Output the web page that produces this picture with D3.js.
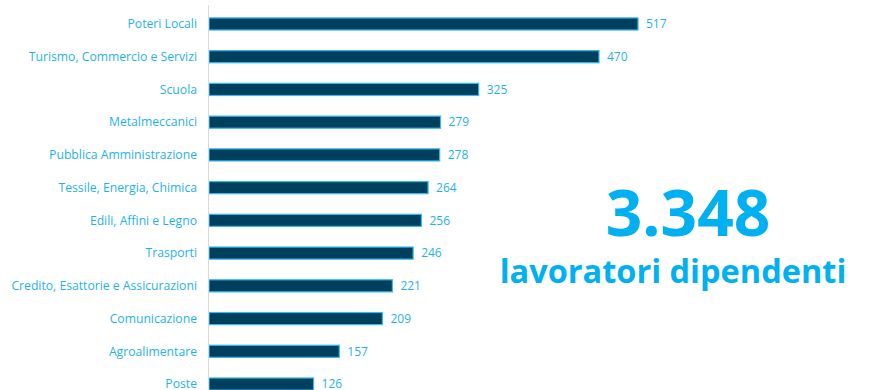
<!DOCTYPE html>
<html>
<head>
<meta charset="utf-8">
<script src="https://cdn.jsdelivr.net/npm/d3@7"></script>
<style>
  body { margin: 0; background: #fff; }
  svg { display: block; }
  .lbl { font-family: "Open Sans", sans-serif; fill: #1fb1ee; }
</style>
</head>
<body>
<div id="chart"></div>
<script>
// sectors and number of employees
const sectors = [
  "Poteri Locali",
  "Turismo, Commercio e Servizi",
  "Scuola",
  "Metalmeccanici",
  "Pubblica Amministrazione",
  "Tessile, Energia, Chimica",
  "Edili, Affini e Legno",
  "Trasporti",
  "Credito, Esattorie e Assicurazioni",
  "Comunicazione",
  "Agroalimentare",
  "Poste"
];
const workers = [517, 470, 325, 279, 278, 264, 256, 246, 221, 209, 157, 126];
const totalLabel = "3.348";
const totalCaption = "lavoratori dipendenti";

// layout constants
const w = 875;
const h = 390;
const left = 209;

const data = sectors.map((s, i) => ({ sector: s, value: workers[i] }));

const xScale = d3.scaleLinear()
  .domain([0, 517])
  .range([left, 638]);

const yScale = d3.scaleBand()
  .domain(sectors)
  .range([7.6, 400.4])
  .paddingInner(0.63)
  .paddingOuter(0.315);

const svg = d3.select("#chart").append("svg")
  .attr("width", w)
  .attr("height", h);

// bars
svg.selectAll("rect.bar")
  .data(data)
  .enter()
  .append("rect")
  .attr("class", "bar")
  .attr("x", xScale(0))
  .attr("y", d => yScale(d.sector))
  .attr("width", d => xScale(d.value) - xScale(0))
  .attr("height", yScale.bandwidth())
  .attr("fill", "#00405f")
  .attr("stroke", "#39b9ef")
  .attr("stroke-width", 1.2);

// y axis: only the line and labels
const yAxis = d3.axisLeft(yScale).tickSize(0).tickPadding(11);
const gy = svg.append("g")
  .attr("transform", `translate(${left - 1},0)`)
  .call(yAxis);
gy.select(".domain").attr("stroke", "#d9d9d9").attr("d", "M0.5,5V390");
gy.selectAll("text")
  .attr("class", "lbl")
  .attr("font-size", 12.2)
  .attr("dy", "0.35em");

// value labels
svg.selectAll("text.val")
  .data(data)
  .enter()
  .append("text")
  .attr("class", "lbl val")
  .attr("x", d => xScale(d.value) + 8)
  .attr("y", d => yScale(d.sector) + yScale.bandwidth() / 2)
  .attr("dy", "0.36em")
  .attr("font-size", 12)
  .text(d => d.value);

// big total
svg.append("text")
  .attr("x", 688)
  .attr("y", 236)
  .attr("text-anchor", "middle")
  .attr("font-family", "Open Sans, sans-serif")
  .attr("font-weight", "bold")
  .attr("font-size", 64)
  .attr("fill", "#00b0f0")
  .text(totalLabel);

svg.append("text")
  .attr("x", 673)
  .attr("y", 283)
  .attr("text-anchor", "middle")
  .attr("font-family", "Open Sans, sans-serif")
  .attr("font-weight", "bold")
  .attr("font-size", 32.5)
  .attr("fill", "#00b0f0")
  .text(totalCaption);
</script>
</body>
</html>
